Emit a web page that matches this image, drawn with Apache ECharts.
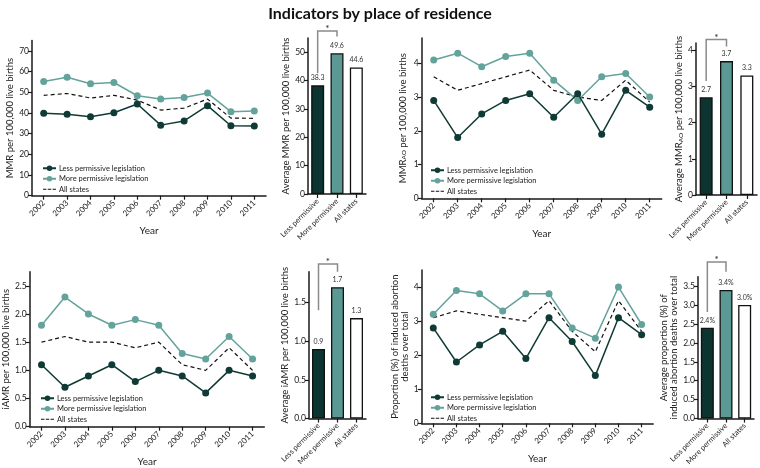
<!DOCTYPE html>
<html><head><meta charset="utf-8">
<script src="https://cdn.jsdelivr.net/npm/echarts@6/dist/echarts.min.js"></script>
<style>html,body{margin:0;padding:0;background:#fff}#c{width:760px;height:468px}</style>
</head><body><div id="c"></div>
<script>
// ---- data ----
const years = ['2002','2003','2004','2005','2006','2007','2008','2009','2010','2011'];
const groups = ['Less permissive','More permissive','All states'];
const seriesNames = ['Less permissive legislation','More permissive legislation','All states'];

const mmrLess = [39.8, 39.4, 38.2, 40.1, 44.3, 34.1, 36.1, 43.5, 33.8, 33.7];
const mmrMore = [55.2, 57.2, 54.1, 54.7, 48.3, 46.7, 47.5, 49.6, 40.6, 40.9];
const mmrAll  = [48.5, 49.4, 47.2, 48.5, 46.2, 41.4, 42.3, 46.7, 37.5, 37.4];
const mmrAvg  = [38.3, 49.6, 44.6];

const aoLess = [2.9, 1.8, 2.5, 2.9, 3.1, 2.4, 3.1, 1.9, 3.2, 2.7];
const aoMore = [4.1, 4.3, 3.9, 4.2, 4.3, 3.5, 2.9, 3.6, 3.7, 3.0];
const aoAll  = [3.6, 3.2, 3.4, 3.6, 3.8, 3.2, 3.0, 2.9, 3.5, 2.85];
const aoAvg  = [2.7, 3.7, 3.3];

const iaLess = [1.1, 0.7, 0.9, 1.1, 0.8, 1.0, 0.9, 0.6, 1.0, 0.9];
const iaMore = [1.8, 2.3, 2.0, 1.8, 1.9, 1.8, 1.3, 1.2, 1.6, 1.2];
const iaAll  = [1.5, 1.6, 1.5, 1.5, 1.4, 1.5, 1.1, 1.0, 1.4, 1.0];
const iaAvg  = [0.9, 1.7, 1.3];

const prLess = [2.8, 1.8, 2.3, 2.7, 1.9, 3.1, 2.4, 1.4, 3.1, 2.6];
const prMore = [3.2, 3.9, 3.8, 3.3, 3.8, 3.8, 2.8, 2.5, 4.0, 2.9];
const prAll  = [3.1, 3.3, 3.2, 3.1, 3.0, 3.6, 2.7, 2.1, 3.6, 2.7];
const prAvg  = [2.4, 3.4, 3.0];

// significance brackets: [top, left leg end, right leg end] in data units
const brMMR = [57.5, 42.6, 55.5];
const brAO  = [4.3, 3.15, 4.1];
const brIA  = [2.0, 1.4, 1.9];
const brPR  = [4.14, 2.82, 3.88];

const ticksMMR = [0,10,20,30,40,50,60,70];
const ticksMMRbar = [0,10,20,30,40,50];
const ticksAO = [0,1,2,3,4];
const ticksIA = [0,0.5,1.0,1.5,2.0,2.5];
const ticksIAbar = [0,0.5,1.0,1.5];
const ticksPR = [0,1,2,3,4];
const ticksPRbar = [0,0.5,1.0,1.5,2.0,2.5,3.0,3.5];

// ---- styles ----
const DARK = '#0f3a35';
const TEAL = '#64a39c';
const BAR_DARK = '#0c3430';
const BAR_TEAL = '#5b9a94';
const FONT = 'Lato';
const AX = '#1a1a1a';

const grids = [
  {left:32,  top:40.5, width:234, height:155.2},  // 0 line MMR
  {left:308, top:38,   width:58,  height:156},    // 1 bar MMR
  {left:421.7, top:38, width:240, height:160.3},  // 2 line AO
  {left:696, top:43,   width:61,  height:152},    // 3 bar AO
  {left:29.3, top:271.7, width:235, height:155},  // 4 line IA
  {left:309, top:271.7, width:57, height:154},    // 5 bar IA
  {left:421.7, top:270, width:231.5, height:153.3},// 6 line PR
  {left:698, top:276.7, width:56, height:146}     // 7 bar PR
];

function yAxis(gi, max, ticks, dec, name, gap, nameRich){
  const a = {
    type:'value', gridIndex:gi, min:0, max:max,
    axisLine:{show:true, lineStyle:{color:AX, width:1.5}},
    axisTick:{show:true, length:4, lineStyle:{color:AX, width:1.2}, customValues:ticks},
    axisLabel:{fontFamily:FONT, fontSize:8.5, color:'#222', margin:3, customValues:ticks,
      formatter:v=>v.toFixed(dec)},
    splitLine:{show:false},
    name:name, nameLocation:'middle', nameGap:gap,
    nameTextStyle:{fontFamily:FONT, fontSize:9.5, color:'#222', lineHeight:10}
  };
  if (nameRich) a.nameTextStyle.rich = nameRich;
  return a;
}
function xAxisLine(gi){
  return {
    type:'category', gridIndex:gi, data:years, boundaryGap:true,
    axisLine:{show:true, lineStyle:{color:AX, width:1.5}},
    axisTick:{show:true, alignWithLabel:true, length:4, lineStyle:{color:AX, width:1.2}},
    axisLabel:{rotate:45, align:'right', verticalAlign:'middle', fontFamily:FONT, fontSize:8, color:'#222', margin:6},
    name:'Year', nameLocation:'middle', nameGap:30,
    nameTextStyle:{fontFamily:FONT, fontSize:10, color:'#222'}
  };
}
function xAxisBar(gi){
  return {
    type:'category', gridIndex:gi, data:groups, boundaryGap:true,
    axisLine:{show:true, lineStyle:{color:AX, width:1.5}},
    axisTick:{show:true, alignWithLabel:true, length:4, lineStyle:{color:AX, width:1.2}},
    axisLabel:{rotate:45, align:'right', verticalAlign:'middle', fontFamily:FONT, fontSize:7.5, color:'#222', margin:6, interval:0}
  };
}
function lineSeries(gi, less, more, all){
  return [
    {type:'line', name:seriesNames[0], xAxisIndex:gi, yAxisIndex:gi, data:less,
     symbol:'circle', symbolSize:7, color:DARK, lineStyle:{color:DARK, width:1.5}, itemStyle:{color:DARK}, z:3},
    {type:'line', name:seriesNames[1], xAxisIndex:gi, yAxisIndex:gi, data:more,
     symbol:'circle', symbolSize:7, color:TEAL, lineStyle:{color:TEAL, width:1.5}, itemStyle:{color:TEAL}, z:2},
    {type:'line', name:seriesNames[2], xAxisIndex:gi, yAxisIndex:gi, data:all,
     symbol:'none', color:'#111', lineStyle:{color:'#111', width:1.2, type:[4,3]}, z:1}
  ];
}
function barSeries(gi, vals, pct){
  const cols = [BAR_DARK, BAR_TEAL, '#ffffff'];
  return {
    type:'bar', xAxisIndex:gi, yAxisIndex:gi, barWidth:13,
    data: vals.map((v,i)=>({value:v, itemStyle:{color:cols[i], borderColor:'#111', borderWidth:1.3}})),
    label:{show:true, position:'top', distance:4, fontFamily:FONT, fontSize:7, color:'#333',
      formatter:p=> pct ? p.value.toFixed(1)+'%' : p.value.toFixed(1)}
  };
}
function bracketSeries(gi, br){
  return {
    type:'custom', xAxisIndex:gi, yAxisIndex:gi, silent:true, clip:false, z:5,
    data:[[0, br[0], br[1], br[2]]], encode:{x:0, y:1},
    renderItem:(params, api)=>{
      const t = api.value(1), l = api.value(2), r = api.value(3);
      const pL = api.coord([0, l]), p0 = api.coord([0, t]), p1 = api.coord([1, t]), pR = api.coord([1, r]);
      return {type:'group', children:[
        {type:'polyline', shape:{points:[pL, p0, p1, pR]}, style:{stroke:'#8a8a8a', lineWidth:1.5, fill:null}},
        {type:'text', x:(p0[0]+p1[0])/2, y:p0[1]+3, style:{text:'*', align:'center', verticalAlign:'bottom',
          fontSize:10, fontFamily:FONT, fill:'#222'}}
      ]};
    }
  };
}
const dashIcon = 'path://M0,0h5v1.6h-5z M7,0h5v1.6h-5z M14,0h5v1.6h-5z';
function legend(left, top){
  return {
    data:[
      {name:seriesNames[0]},
      {name:seriesNames[1]},
      {name:seriesNames[2], icon:dashIcon, itemStyle:{color:'#111'}}
    ],
    orient:'vertical', left:left, top:top,
    itemWidth:13, itemHeight:7, itemGap:0, selectedMode:false,
    textStyle:{fontFamily:FONT, fontSize:7.5, color:'#222', lineHeight:10.5, padding:[0,0,0,-2]}
  };
}

const subRich = {
  a:{fontFamily:FONT, fontSize:9.5, color:'#222'},
  s:{fontFamily:FONT, fontSize:6.5, color:'#222', verticalAlign:'bottom', padding:[4,0,0,0]}
};

const option = {
  animation:false,
  backgroundColor:'#fff',
  title:{text:'Indicators by place of residence', left:'center', top:1,
    textStyle:{fontFamily:FONT, fontSize:16, fontWeight:'bold', color:'#111'}},
  grid:grids,
  legend:[legend(37, 158), legend(425, 160), legend(35, 388), legend(425, 387)],
  xAxis:[xAxisLine(0), xAxisBar(1), xAxisLine(2), xAxisBar(3), xAxisLine(4), xAxisBar(5), xAxisLine(6), xAxisBar(7)],
  yAxis:[
    yAxis(0, 75, ticksMMR, 0, 'MMR per 100,000 live births', 17),
    yAxis(1, 55, ticksMMRbar, 0, 'Average MMR per 100,000 live births', 17),
    yAxis(2, 4.75, ticksAO, 0, '{a|MMR}{s|AO}{a| per 100,000 live births}', 14, subRich),
    yAxis(3, 4.2, ticksAO, 0, '{a|Average MMR}{s|AO}{a| per 100,000 live births}', 12, subRich),
    yAxis(4, 2.75, ticksIA, 1, 'iAMR per 100,000 live births', 17),
    yAxis(5, 1.9, ticksIAbar, 1, 'Average iAMR per 100,000 live births', 17),
    yAxis(6, 4.5, ticksPR, 0, 'Proportion (%) of induced abortion\ndeaths over total', 12),
    yAxis(7, 3.75, ticksPRbar, 1, 'Average proportion (%) of\ninduced abortion deaths over total', 15)
  ],
  series:[
    ...lineSeries(0, mmrLess, mmrMore, mmrAll),
    barSeries(1, mmrAvg, false), bracketSeries(1, brMMR),
    ...lineSeries(2, aoLess, aoMore, aoAll),
    barSeries(3, aoAvg, false), bracketSeries(3, brAO),
    ...lineSeries(4, iaLess, iaMore, iaAll),
    barSeries(5, iaAvg, false), bracketSeries(5, brIA),
    ...lineSeries(6, prLess, prMore, prAll),
    barSeries(7, prAvg, true), bracketSeries(7, brPR)
  ]
};
const chart = echarts.init(document.getElementById('c'), null, {renderer:'canvas'});
chart.setOption(option);
</script>
</body></html>
